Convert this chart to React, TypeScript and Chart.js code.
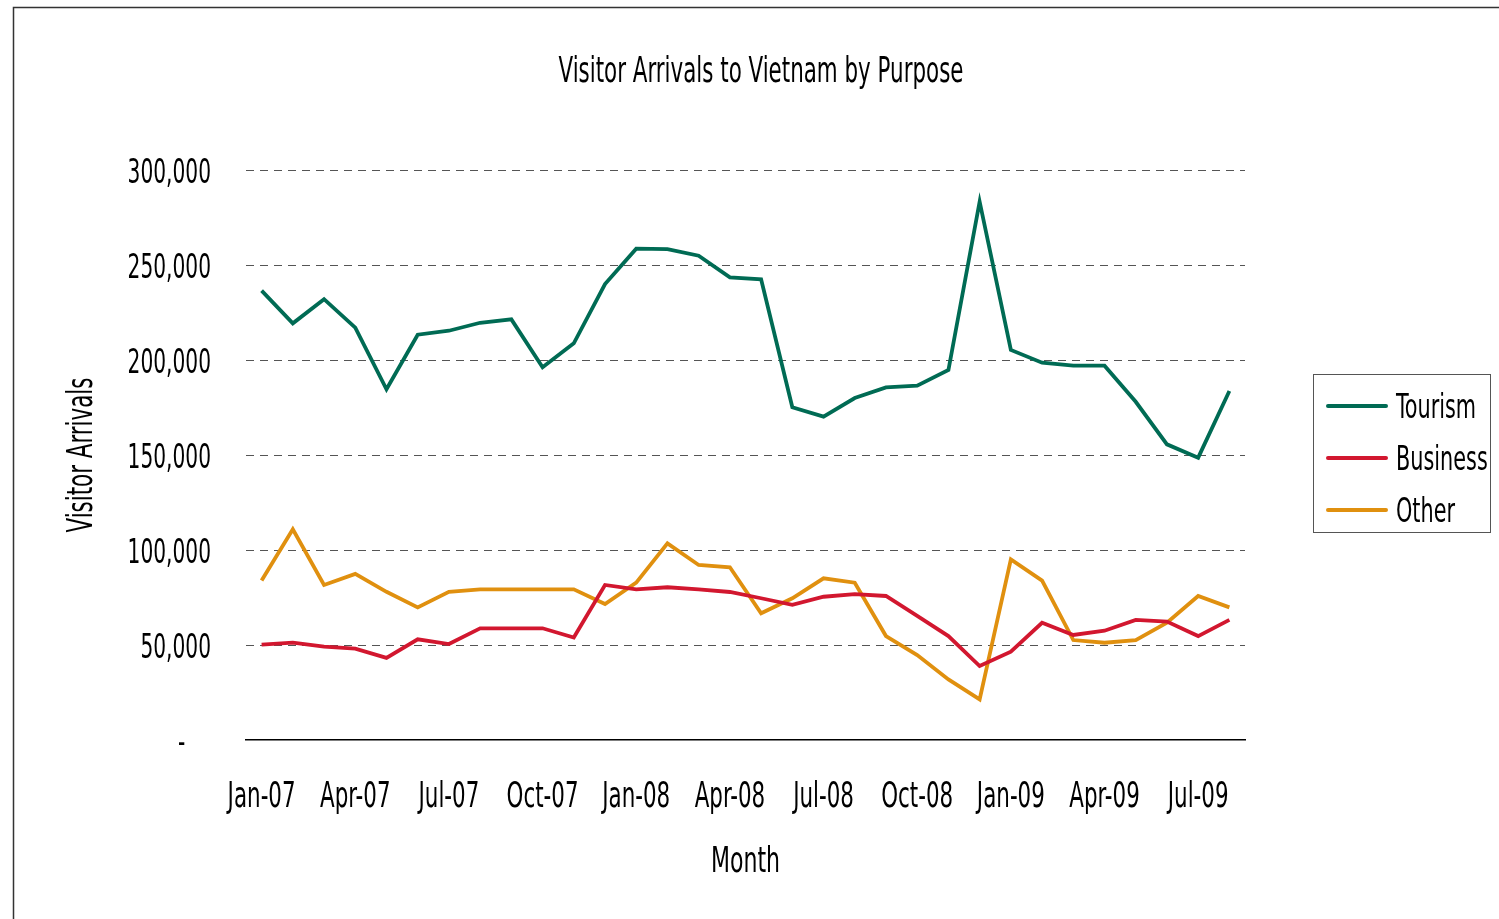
import React, { useEffect, useRef } from "react";
import { Chart, registerables } from "chart.js";

Chart.register(...registerables);

const months: string[] = [
  "Jan-07", "Feb-07", "Mar-07", "Apr-07", "May-07", "Jun-07", "Jul-07", "Aug-07", "Sep-07", "Oct-07", "Nov-07", "Dec-07",
  "Jan-08", "Feb-08", "Mar-08", "Apr-08", "May-08", "Jun-08", "Jul-08", "Aug-08", "Sep-08", "Oct-08", "Nov-08", "Dec-08",
  "Jan-09", "Feb-09", "Mar-09", "Apr-09", "May-09", "Jun-09", "Jul-09", "Aug-09",
];

const tourism: number[] = [
  236500, 219300, 232000, 217000, 184600, 213300, 215400, 219600, 221400, 196200, 208800, 240000,
  258600, 258400, 254900, 243500, 242500, 175100, 170200, 180000, 185600, 186500, 194700, 283300,
  205300, 198600, 197000, 197000, 178000, 155600, 148600, 183700,
];

const business: number[] = [
  50200, 51200, 49100, 48100, 43200, 53000, 50500, 58800, 58800, 58800, 53900, 81600,
  79300, 80400, 79300, 77900, 74600, 71100, 75400, 76800, 75800, 65300, 54700, 38900,
  46500, 61700, 55300, 57500, 63200, 62300, 54700, 63200,
];

const other: number[] = [
  83900, 110900, 81600, 87400, 78000, 69800, 78000, 79300, 79300, 79300, 79300, 71600,
  82800, 103500, 92100, 90900, 66700, 74600, 85100, 82800, 54700, 44700, 31900, 21400,
  95100, 83900, 52600, 51200, 52600, 61700, 75800, 69800,
];

const seriesNames: string[] = ["Tourism", "Business", "Other"];
const seriesColors: string[] = ["#006B54", "#D2172F", "#E0900F"];

const chartTitle = "Visitor Arrivals to Vietnam by Purpose";
const xTitle = "Month";
const yTitle = "Visitor Arrivals";

const FONT = "'DejaVu Sans Condensed', 'DejaVu Sans', sans-serif";
const TEXT_SX = 0.68; // horizontal condensing of all text
const TEXT_DY = 4; // optical centring for middle-baseline text

const decorPlugin = {
  id: "decor",
  afterDraw(chart: any) {
    const ctx = chart.ctx as CanvasRenderingContext2D;
    ctx.save();
    // outer frame
    ctx.strokeStyle = "#333";
    ctx.lineWidth = 1.5;
    ctx.strokeRect(13.5, 7.5, 1700, 1200);

    // title
    ctx.fillStyle = "#000";
    ctx.font = `35px ${FONT}`;
    ctx.textAlign = "center";
    ctx.textBaseline = "middle";
    ctx.fillText(chartTitle, 761, 69);

    // legend
    const lx = 1313.5, ly = 374.5, lw = 177, lh = 158;
    ctx.strokeStyle = "#555";
    ctx.lineWidth = 1;
    ctx.strokeRect(lx, ly, lw, lh);
    ctx.textAlign = "left";
    ctx.font = `34px ${FONT}`;
    chart.data.datasets.forEach((ds: any, i: number) => {
      const y = 406 + i * 52;
      ctx.strokeStyle = ds.borderColor;
      ctx.lineWidth = 4;
      ctx.lineCap = "round";
      ctx.beginPath();
      ctx.moveTo(1328, y);
      ctx.lineTo(1386, y);
      ctx.stroke();
      ctx.fillStyle = "#000";
      ctx.fillText(ds.label, 1396, y - 1);
    });
    ctx.restore();
  },
};

export default function App() {
  const ref = useRef<HTMLCanvasElement | null>(null);

  useEffect(() => {
    document.body.style.margin = "0";
    const canvas = ref.current;
    if (!canvas) return;
    const c2d = canvas.getContext("2d") as any;
    if (c2d && !c2d.__condensed) {
      const orig = c2d.fillText;
      c2d.fillText = function (text: string, x: number, y: number, maxWidth?: number) {
        this.save();
        const dy = this.textBaseline === "middle" ? TEXT_DY : 0;
        this.translate(x, y + dy);
        this.scale(TEXT_SX, 1);
        if (maxWidth !== undefined) orig.call(this, text, 0, 0, maxWidth / TEXT_SX);
        else orig.call(this, text, 0, 0);
        this.restore();
      };
      c2d.__condensed = true;
    }
    const data = [tourism, business, other];
    const chart = new Chart(canvas, {
      type: "line",
      data: {
        labels: months,
        datasets: seriesNames.map((name, i) => ({
          label: name,
          data: data[i],
          borderColor: seriesColors[i],
          backgroundColor: seriesColors[i],
          borderWidth: 3.8,
          pointRadius: 0,
          pointHoverRadius: 0,
          tension: 0,
          fill: false,
        })),
      },
      options: {
        animation: false,
        responsive: false,
        devicePixelRatio: 1,
        layout: { padding: { left: 0, right: 254, top: 170, bottom: 0 } },
        plugins: {
          legend: { display: false },
          title: { display: false },
          tooltip: { enabled: false },
        },
        scales: {
          x: {
            type: "category",
            offset: true,
            grid: { display: false, drawTicks: false, tickLength: 0 },
            border: { display: true, color: "#000", width: 1.5 },
            ticks: {
              autoSkip: false,
              maxRotation: 0,
              minRotation: 0,
              padding: 33,
              color: "#000",
              font: { family: FONT, size: 35, lineHeight: 1.2 },
              callback: (_v: any, i: number) => (i % 3 === 0 ? months[i] : ""),
            },
            title: {
              display: true,
              text: xTitle,
              color: "#000",
              font: { family: FONT, size: 36, lineHeight: 1.2 },
              padding: { top: 0, bottom: 39 },
            },
            afterFit: (scale: any) => {
              scale.height = 179;
            },
          },
          y: {
            min: 0,
            max: 300000,
            grid: {
              drawTicks: false,
              tickLength: 0,
              lineWidth: 1,
              color: (c: any) => (c.tick && c.tick.value === 0 ? "rgba(0,0,0,0)" : "#555"),
              borderDash: [8, 6],
            } as any,
            border: { display: false, dash: [8, 6] },
            ticks: {
              stepSize: 50000,
              padding: 35,
              color: "#000",
              font: { family: FONT, size: 33, lineHeight: 1.2 },
              callback: (v: any) => (Number(v) === 0 ? "-    " : Number(v).toLocaleString("en-US")),
            },
            title: {
              display: true,
              text: yTitle,
              color: "#000",
              font: { family: FONT, size: 35, lineHeight: 1.2 },
              padding: { top: 58, bottom: 0 },
            },
            afterFit: (scale: any) => {
              scale.width = 246;
            },
          },
        },
      },
      plugins: [decorPlugin],
    });
    return () => chart.destroy();
  }, []);

  return (
    <div style={{ width: 1499, height: 919 }}>
      <canvas ref={ref} width={1499} height={919} style={{ display: "block" }} />
    </div>
  );
}
